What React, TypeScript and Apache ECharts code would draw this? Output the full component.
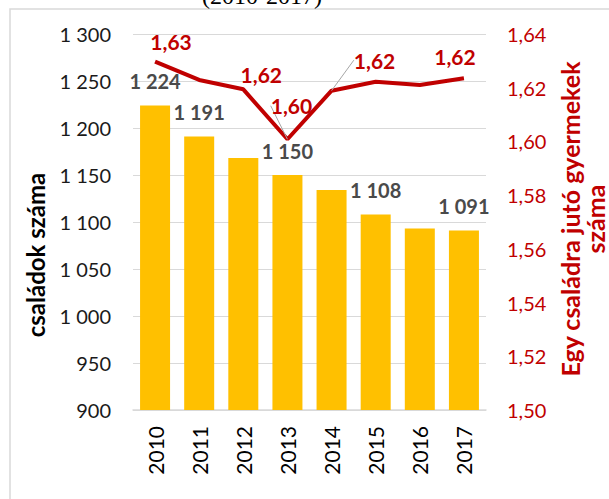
import React, { useEffect, useRef } from 'react';
import * as echarts from 'echarts';

const years = ['2010', '2011', '2012', '2013', '2014', '2015', '2016', '2017'];
const families = [1224, 1191, 1168, 1150, 1134, 1108, 1093, 1091];
const childrenPerFamily = [1.6297, 1.6229, 1.6194, 1.6008, 1.6189, 1.6222, 1.621, 1.6235];
const familyLabelShown = [true, true, false, true, false, true, false, true];
const ratioLabelShown = [true, false, true, true, true, false, false, true];
const ratioLeaderShown = [false, false, false, true, true, false, false, false];
const leftAxisName = 'családok száma';
const rightAxisName = 'Egy családra jutó gyermekek\nszáma';
const titleText = '(2010-2017)';

const FONT = 'Lato, "Noto Sans", sans-serif';
const RED = '#C00000';

const fmtThousands = (v: number) => String(Math.round(v)).replace(/\B(?=(\d{3})+(?!\d))/g, ' ');
const fmtComma = (v: number) => v.toFixed(2).replace('.', ',');

const labelOffsets: Record<number, [number, number]> = {
  0: [16, -5],
  2: [18, 1],
  3: [4, -18],
  4: [43, -15],
  7: [-9, -6],
};

export default function App() {
  const ref = useRef<HTMLDivElement>(null);
  useEffect(() => {
    if (!ref.current) return;
    const chart = echarts.init(ref.current, null, { renderer: 'svg' });
    chart.setOption({
      animation: false,
      backgroundColor: '#ffffff',
      textStyle: { fontFamily: FONT },
      grid: { left: 133, right: 123, top: 34, bottom: 89, containLabel: false },
      graphic: [
        {
          type: 'rect',
          shape: { x: 10, y: 9, width: 640, height: 540 },
          style: { fill: 'none', stroke: '#d9d9d9', lineWidth: 1.5 },
          silent: true,
        },
        {
          type: 'text',
          x: 262,
          y: 8,
          style: {
            text: titleText,
            font: '24px "Liberation Serif", "Times New Roman", serif',
            fill: '#000',
            textAlign: 'center',
            textVerticalAlign: 'bottom',
          },
        },
        {
          type: 'text',
          x: 35,
          y: 255,
          rotation: Math.PI / 2,
          style: {
            text: leftAxisName,
            font: 'bold 24px ' + FONT,
            fill: '#000',
            textAlign: 'center',
            textVerticalAlign: 'middle',
          },
        },
        {
          type: 'text',
          x: 582,
          y: 219,
          rotation: Math.PI / 2,
          style: {
            text: rightAxisName,
            font: 'bold 25px ' + FONT,
            fill: RED,
            lineHeight: 25,
            textAlign: 'center',
            textVerticalAlign: 'middle',
          },
        },
      ],
      xAxis: {
        type: 'category',
        data: years,
        axisLine: { show: true, lineStyle: { color: '#d9d9d9', width: 1.5 } },
        axisTick: { show: false },
        axisLabel: {
          rotate: 90,
          margin: 16,
          color: '#000',
          fontSize: 21,
          fontFamily: FONT,
        },
      },
      yAxis: [
        {
          type: 'value',
          min: 900,
          max: 1300,
          interval: 50,
          axisLine: { show: false },
          axisTick: { show: false },
          splitLine: { show: true, lineStyle: { color: '#d9d9d9', width: 1.2 } },
          axisLabel: {
            margin: 22,
            color: '#1a1a1a',
            fontSize: 20,
            fontFamily: FONT,
            formatter: (v: number) => fmtThousands(v),
          },
        },
        {
          type: 'value',
          min: 1.5,
          max: 1.64,
          interval: 0.02,
          axisLine: { show: false },
          axisTick: { show: false },
          splitLine: { show: false },
          axisLabel: {
            margin: 21,
            color: RED,
            fontSize: 20,
            fontFamily: FONT,
            formatter: (v: number) => fmtComma(v),
          },
        },
      ],
      series: [
        {
          type: 'bar',
          yAxisIndex: 0,
          barCategoryGap: '32%',
          itemStyle: { color: '#FFC000' },
          label: {
            show: false,
            position: 'top',
            distance: 14,
            color: '#4a4a4a',
            fontWeight: 'bold',
            fontSize: 20,
            fontFamily: FONT,
            formatter: (p: any) => fmtThousands(p.value),
          },
          data: families.map((v, i) => ({ value: v, label: { show: familyLabelShown[i] } })),
        },
        {
          type: 'line',
          yAxisIndex: 1,
          symbol: 'circle',
          symbolSize: 0,
          showSymbol: true,
          z: 5,
          lineStyle: { color: RED, width: 4 },
          itemStyle: { color: RED },
          label: {
            show: false,
            position: 'top',
            color: RED,
            fontWeight: 'bold',
            fontSize: 21,
            fontFamily: FONT,
            formatter: (p: any) => fmtComma(p.value),
          },
          labelLine: { show: false, lineStyle: { color: '#a6a6a6', width: 1 } },
          labelLayout: (p: any) => {
            const off = labelOffsets[p.dataIndex];
            return off ? { dx: off[0], dy: off[1] } : {};
          },
          data: childrenPerFamily.map((v, i) => ({
            value: v,
            label: { show: ratioLabelShown[i] },
            labelLine: { show: ratioLeaderShown[i], lineStyle: { color: '#a6a6a6', width: 1 } },
          })),
        },
      ],
    });
    return () => chart.dispose();
  }, []);
  return (
    <div
      ref={ref}
      style={{ position: 'fixed', left: 0, top: 0, width: 609, height: 499, background: '#fff' }}
    />
  );
}
